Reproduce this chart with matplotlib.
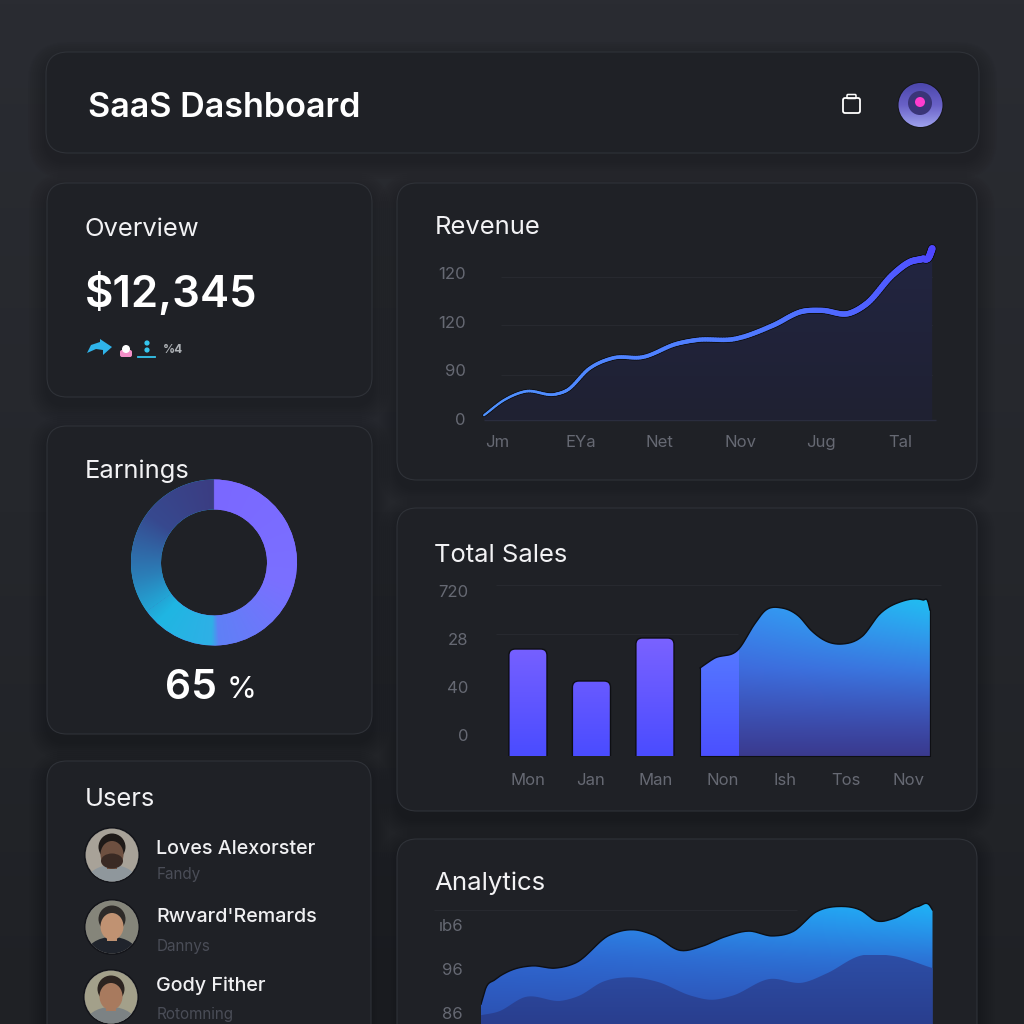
import numpy as np
import matplotlib
matplotlib.use('Agg')
import matplotlib.pyplot as plt
from matplotlib.colors import LinearSegmentedColormap, to_rgb
from matplotlib.collections import LineCollection
from matplotlib.patches import FancyBboxPatch, Circle, Ellipse, Polygon, Rectangle

plt.rcParams['font.family'] = ['Inter', 'DejaVu Sans']

# Revenue
rev_x = [-0.16, 0.09, 0.35, 0.72, 0.86, 1.14, 1.43, 1.80, 2.22, 2.47, 2.93, 3.40, 3.77, 4.01, 4.35, 4.56, 4.89, 5.10, 5.25, 5.33, 5.37]
rev_y = [5, 21, 30, 27, 31, 54, 65, 66, 80, 84, 85, 99, 114, 115, 112, 122, 153, 166, 169, 171, 180]
rev_xticks = [0, 1.04, 2.0, 3.0, 4.0, 4.98]
rev_xlabels = ['Jm', 'EYa', 'Net', 'Nov', 'Jug', 'Tal']
rev_yticks = [1, 52, 103, 154]
rev_ylabels = ['0', '90', '120', '120']
rev_grid = [0, 47, 100, 150]

# Total sales
sales_labels = ['Mon', 'Jan', 'Man', 'Non', 'Ish', 'Tos', 'Nov']
sales_xticks = [0, 0.99, 2.01, 3.06, 4.05, 5.01, 6.0]
sales_bars = [107, 75, 118]
sales_area_x = [2.71, 2.93, 3.32, 3.57, 3.73, 4.0, 4.26, 4.47, 4.69, 4.95, 5.27, 5.54, 5.86, 6.22, 6.30, 6.33]
sales_area_y = [88, 97.5, 107, 132, 145, 148, 140, 125, 115, 112, 120, 142, 154, 156, 154, 146]
sales_yticks = [21, 69, 117, 165]
sales_ylabels = ['0', '40', '28', '720']
sales_grid = [171, 122]

# Analytics
ana_x = [0, 1, 3, 6, 11.3, 16.5, 21, 28.5, 33.8, 38.2, 44.2, 48.8, 54, 59.3, 64.6, 69.1, 74.3, 79.5, 84, 87.7, 91.5, 96.8, 99.4, 100]
ana_y = [88, 91.5, 93.5, 95.4, 96.7, 96.2, 97.4, 103.7, 104.9, 103.7, 100.2, 101.1, 103.3, 104.6, 103.5, 104.5, 109, 110.2, 109.4, 106.9, 107.5, 110.2, 110.4, 109.4]
ana2_x = [0, 3.8, 9.7, 18, 21.7, 27, 33, 39, 46.6, 51, 55.6, 63.8, 71.3, 76.6, 84, 91, 100]
ana2_y = [85.5, 86.3, 89.6, 88.8, 89.9, 93.1, 94.1, 93.1, 89.9, 89, 89.9, 93.7, 92.9, 95, 99, 99, 96.2]
ana_yticks = [86, 96, 106]
ana_ylabels = ['86', '96', 'ıb6']

# Earnings donut
earnings = [65, 35]

# Users
user_names = ['Loves Alexorster', "Rwvard'Remards", 'Gody Fither']
user_subs = ['Fandy', 'Dannys', 'Rotomning']

W = 1024
CARD = '#1f2126'
BORDER = '#2f3238'
GRID = '#282a30'
TICK = '#666973'


def px_axes(fig, left, top, right, bottom):
    """Transparent axes placed by pixel rectangle"""
    ax = fig.add_axes([left / W, 1 - bottom / W, (right - left) / W, (bottom - top) / W])
    ax.patch.set_alpha(0)
    for s in ax.spines.values():
        s.set_visible(False)
    ax.tick_params(length=0, labelcolor=TICK, labelsize=12)
    return ax


def smooth(x, y, steps=14):
    """Hermite curve through the read points, only for drawing"""
    x, y = np.asarray(x, float), np.asarray(y, float)
    m = np.gradient(y, x)
    xs, ys = [], []
    for i in range(len(x) - 1):
        h = x[i + 1] - x[i]
        t = np.linspace(0, 1, steps, endpoint=False)
        xs.append(x[i] + h * t)
        ys.append((2 * t**3 - 3 * t**2 + 1) * y[i] + (t**3 - 2 * t**2 + t) * h * m[i]
                  + (-2 * t**3 + 3 * t**2) * y[i + 1] + (t**3 - t**2) * h * m[i + 1])
    xs.append(x[-1:])
    ys.append(y[-1:])
    return np.concatenate(xs), np.concatenate(ys)


def vert_image(ax, stops, extent, clip_path, alpha=1.0, zorder=2):
    """Vertical gradient image clipped to a path, stops run bottom to top"""
    cmap = LinearSegmentedColormap.from_list('g', stops)
    grad = np.linspace(1, 0, 256)[:, None]
    im = ax.imshow(grad, cmap=cmap, vmin=0, vmax=1, extent=extent, aspect='auto', alpha=alpha, zorder=zorder)
    im.set_clip_path(clip_path, ax.transData)
    return im


def area_image(ax, low, mid, top, accent, extent, clip_path, zorder=2):
    """Gradient that turns to the accent colour at the top right"""
    ny, nx = 200, 200
    v = np.linspace(1, 0, ny)[:, None]
    u = np.linspace(0, 1, nx)[None, :]
    low, mid, top, accent = [np.array(to_rgb(c)) for c in (low, mid, top, accent)]
    img = np.zeros((ny, nx, 3))
    for c in range(3):
        base = np.where(v < 0.55, low[c] + (mid[c] - low[c]) * v / 0.55,
                        mid[c] + (top[c] - mid[c]) * (v - 0.55) / 0.45)
        w = np.clip(u * v**2.5, 0, 1)
        img[:, :, c] = base * (1 - w) + accent[c] * w
    im = ax.imshow(img, extent=extent, aspect='auto', zorder=zorder)
    im.set_clip_path(clip_path, ax.transData)
    return im


def card(ax, x0, y0, x1, y1, r=20):
    # soft shadow
    for i in range(18, 0, -2):
        ax.add_patch(FancyBboxPatch((x0 - i, y0 - i + 8), x1 - x0 + 2 * i, y1 - y0 + 2 * i,
                                    boxstyle=f'round,pad=0,rounding_size={r + i}',
                                    fc='#15161a', ec='none', alpha=0.05))
    ax.add_patch(FancyBboxPatch((x0, y0), x1 - x0, y1 - y0, boxstyle=f'round,pad=0,rounding_size={r}',
                                fc=CARD, ec=BORDER, lw=0.8))


def avatar(ax, cx, cy, bg, hair, skin, shirt, beard=None):
    clip = Circle((cx, cy), 26.5, transform=ax.transData)
    ax.add_patch(Circle((cx, cy), 28, fc='#14151a', ec='none'))
    parts = [Circle((cx, cy), 26.5, fc=bg, ec='#8a8a86', lw=0.5),
             Ellipse((cx, cy + 28), 52, 36, fc=shirt, ec='none'),
             Ellipse((cx, cy - 8), 27, 27, fc=hair, ec='none'),
             Rectangle((cx - 5, cy + 5), 10, 9, fc=skin, ec='none'),
             Ellipse((cx, cy - 0.5), 23, 27, fc=skin, ec='none')]
    if beard:
        parts.append(Ellipse((cx, cy + 6), 22, 15, fc=beard, ec='none'))
    for p in parts:
        ax.add_patch(p)
        p.set_clip_path(clip)


fig = plt.figure(figsize=(10.24, 10.24), dpi=100)

# page and cards, y runs down in pixels
bg = fig.add_axes([0, 0, 1, 1])
bg.axis('off')
page = LinearSegmentedColormap.from_list('page', ['#2a2c32', '#25272c', '#1f2125'])
bg.imshow(np.linspace(0, 1, 256)[:, None], cmap=page, extent=[0, W, W, 0], aspect='auto', zorder=0)

card(bg, 46, 52, 979, 153, r=22)
card(bg, 47, 183, 372, 397)
card(bg, 47, 426, 372, 734)
card(bg, 47, 761, 371, 1060)
card(bg, 397, 183, 977, 480)
card(bg, 397, 508, 977, 811)
card(bg, 397, 839, 977, 1060)

# header
bg.text(88, 108, 'SaaS Dashboard', color='white', fontsize=24.6, fontweight=600, va='center')
bg.add_patch(FancyBboxPatch((843, 98), 17, 15, boxstyle='round,pad=0,rounding_size=2', fc='none', ec='white', lw=1.3))
bg.add_patch(FancyBboxPatch((847, 94.5), 9, 4, boxstyle='round,pad=0,rounding_size=1', fc='none', ec='white', lw=1.1))
bg.add_patch(Circle((920.5, 105), 23, fc='#15161a', ec='none'))
orb = bg.imshow(np.linspace(0, 1, 64)[:, None], extent=[898, 943, 128, 83], aspect='auto', zorder=3,
                cmap=LinearSegmentedColormap.from_list('orb', ['#4c47ac', '#6a62c8', '#a0a4ee']))
orb.set_clip_path(Circle((920.5, 105), 22, transform=bg.transData))
bg.add_patch(Circle((920, 103), 12, fc='#3a3578', ec='none', zorder=4))
bg.add_patch(Circle((920, 102), 5, fc='#ff3ccf', ec='none', zorder=5))

# overview
bg.text(85, 230, 'Overview', color='#f2f2f4', fontsize=18.4, va='center')
bg.text(85, 294, '$12,345', color='white', fontsize=31.5, fontweight=600, va='center')
bg.add_patch(Polygon([(87, 353), (91, 345), (100, 342), (100, 339), (112, 347), (103, 355), (103, 350), (96, 349)],
                     fc='#2fb4ea', ec='none'))
bg.add_patch(FancyBboxPatch((120, 350), 12, 7, boxstyle='round,pad=0,rounding_size=2', fc='#f48fc8', ec='none'))
bg.add_patch(Circle((126, 349), 4, fc='white', ec='none'))
bg.add_patch(Circle((147, 343), 2.6, fc='#35c6ee', ec='none'))
bg.add_patch(Circle((147, 350), 2.6, fc='#35c6ee', ec='none'))
bg.plot([138, 155], [357, 357], color='#35c6ee', lw=1.3)
bg.text(173, 350, '%4', color='#aeb2b6', fontsize=8.5, fontweight='bold', ha='center', va='center')

# earnings and users text
bg.text(85, 471, 'Earnings', color='#f2f2f4', fontsize=18.4, va='center')
bg.text(165, 688, '65', color='white', fontsize=29.5, fontweight=600, va='center')
bg.text(227, 690, '%', color='white', fontsize=22, va='center')
bg.text(85, 800, 'Users', color='#f2f2f4', fontsize=18.4, va='center')

avatar(bg, 112, 855, '#a8a298', '#1f1a18', '#6e5040', '#8f979c', beard='#3a2a24')
avatar(bg, 112, 927, '#85857a', '#2d2a28', '#c09272', '#20242c')
avatar(bg, 111, 997, '#a3a08a', '#2c2420', '#a87a5e', '#7c8284')
name_y = [849, 917, 986]
sub_y = [875, 947, 1014]
for name, sub, ny, sy in zip(user_names, user_subs, name_y, sub_y):
    bg.text(156, ny, name, color='#f0f0f2', fontsize=14.2, fontweight=500, va='center')
    bg.text(157, sy, sub, color='#4a4d57', fontsize=11, va='center')

bg.text(435, 227, 'Revenue', color='#f2f2f4', fontsize=18.4, va='center')
bg.text(434, 555, 'Total Sales', color='#f2f2f4', fontsize=18.4, va='center')
bg.text(434, 883, 'Analytics', color='#f2f2f4', fontsize=18.6, va='center')
bg.set_xlim(0, W)
bg.set_ylim(W, 0)

# donut, gradient laid over the pie wedges
dn = px_axes(fig, 126, 474.5, 302, 650.5)
wedges, _ = dn.pie(earnings, startangle=90, counterclock=False, radius=83,
                   colors=['#7a6aff', '#23b8e0'], wedgeprops=dict(width=30, ec='none'))
gx, gy = np.meshgrid(np.linspace(-88, 88, 500), np.linspace(88, -88, 500))
ang = (np.degrees(np.arctan2(gx, gy)) % 360) / 360
ring = LinearSegmentedColormap.from_list('ring', [(0, '#7b68ff'), (0.3, '#7a70ff'), (0.49, '#5f80f6'), (0.505, '#2fb0e6'),
                                                  (0.62, '#1fb6e2'), (0.72, '#2b7fb8'), (0.85, '#37498f'), (1, '#3b3d82')])
for w in wedges:
    im = dn.imshow(ang, cmap=ring, vmin=0, vmax=1, extent=[-88, 88, -88, 88], zorder=3)
    im.set_clip_path(w)
dn.set_xlim(-88, 88)
dn.set_ylim(-88, 88)
dn.axis('off')

# revenue chart
ax = px_axes(fig, 484, 245, 933, 420)
ymax = 183.6
sx, sy = smooth(rev_x, rev_y)
ax.hlines(rev_grid[1:], 0.05, 5.38, color=GRID, lw=0.7, zorder=1)
ax.hlines(rev_grid[0], -0.16, 5.42, color='#2a2d3e', lw=1.0, zorder=1, clip_on=False)
poly = ax.fill_between(sx, 0, sy, fc='none', ec='none')
vert_image(ax, ['#1f2132', '#222542'], [-0.16, 5.38, 0, ymax], poly.get_paths()[0], zorder=1.5)
pts = np.column_stack([sx, sy])
segs = np.stack([pts[:-1], pts[1:]], axis=1)
taper = np.linspace(1.5, 5.0, len(segs))
line_cmap = LinearSegmentedColormap.from_list('l', ['#4f92ff', '#4f7bff', '#4f46ff'])
ax.add_collection(LineCollection(segs, colors='#101116', linewidths=taper + 1.2, capstyle='round', zorder=3, clip_on=False))
ax.add_collection(LineCollection(segs, colors=line_cmap(np.linspace(0, 1, len(segs))), linewidths=taper,
                                 capstyle='round', zorder=4, clip_on=False))
ax.set_xlim(-0.16, 5.38)
ax.set_ylim(0, ymax)
ax.set_xticks(rev_xticks, rev_xlabels)
ax.set_yticks(rev_yticks, rev_ylabels)
ax.tick_params(axis='y', pad=13)
ax.tick_params(axis='x', pad=10.5)

# total sales chart
ax = px_axes(fig, 500, 580, 935, 756)
x_lim = (-0.44, 6.41)
ax.hlines(sales_grid[0], -0.5, 6.5, color=GRID, lw=0.7, zorder=1, clip_on=False)
ax.hlines(sales_grid[1], -0.5, 3.3, color=GRID, lw=0.7, zorder=1, clip_on=False)
bars = ax.bar(range(len(sales_bars)), sales_bars, width=0.6, color='none')
aspect = 63.5
for b in bars:
    x0, w, h = b.get_x(), b.get_width(), b.get_height()
    shape = FancyBboxPatch((x0, -12), w, h + 12, boxstyle='round,pad=0,rounding_size=0.1', mutation_aspect=aspect,
                           fc='none', ec='#0e0f13', lw=1.0, zorder=4)
    ax.add_patch(shape)
    cmap = LinearSegmentedColormap.from_list('b', ['#4a4cff', '#7a62ff'])
    im = ax.imshow(np.linspace(1, 0, 128)[:, None] * (h / 118), cmap=cmap, vmin=0, vmax=1,
                   extent=[x0, x0 + w, 0, h], aspect='auto', zorder=3)
    im.set_clip_path(shape.get_path(), shape.get_transform())
ax_x, ax_y = smooth(sales_area_x, sales_area_y)
ax_x = np.concatenate([[sales_area_x[0]], ax_x])
ax_y = np.concatenate([[0], ax_y])
poly = ax.fill_between(ax_x, 0, ax_y, fc='none', ec='none')
clip = poly.get_paths()[0]
area_image(ax, '#3a3a8e', '#3f68dc', '#3a8ff5', '#1fc0f0', [2.71, 6.33, 0, 160], clip)
vert_image(ax, ['#4b50ff', '#5578ff'], [2.71, 3.32, 0, 107], clip, zorder=2.5)
ax.plot(ax_x[1:], ax_y[1:], color='#0e0f13', lw=1.0, zorder=3)
ax.plot([2.71, 2.71, 6.33, 6.33], [88, 0, 0, 146], color='#0e0f13', lw=0.8, zorder=3, clip_on=False)
ax.set_xlim(*x_lim)
ax.set_ylim(0, 176)
ax.set_xticks(sales_xticks, sales_labels)
ax.set_yticks(sales_yticks, sales_ylabels)
ax.tick_params(axis='y', pad=23)
ax.tick_params(axis='x', pad=12.5)

# analytics chart, runs off the bottom of the page
ax = px_axes(fig, 481, 895, 932.5, 1024)
y_lim = (83.5, 112.8)
ax.hlines(109.4, -10.3, 70, color=GRID, lw=0.7, zorder=1, clip_on=False)
tx, ty = smooth(ana_x, ana_y)
poly = ax.fill_between(tx, y_lim[0], ty, fc='none', ec='none')
area_image(ax, '#2c50b0', '#2f66d0', '#2e86ee', '#1eb4f5', [0, 100, y_lim[0], 111], poly.get_paths()[0])
ux, uy = smooth(ana2_x, ana2_y)
poly = ax.fill_between(ux, y_lim[0], uy, fc='none', ec='none')
vert_image(ax, ['#293e8e', '#2d4ea6'], [0, 100, y_lim[0], 99], poly.get_paths()[0], zorder=2.5)
ax.plot(tx, ty, color='#0e0f13', lw=1.0, zorder=3)
ax.set_xlim(0, 100)
ax.set_ylim(*y_lim)
ax.set_xticks([])
ax.set_yticks(ana_yticks, ana_ylabels)
ax.tick_params(axis='y', pad=13)

fig.savefig('out.png', dpi=100)
